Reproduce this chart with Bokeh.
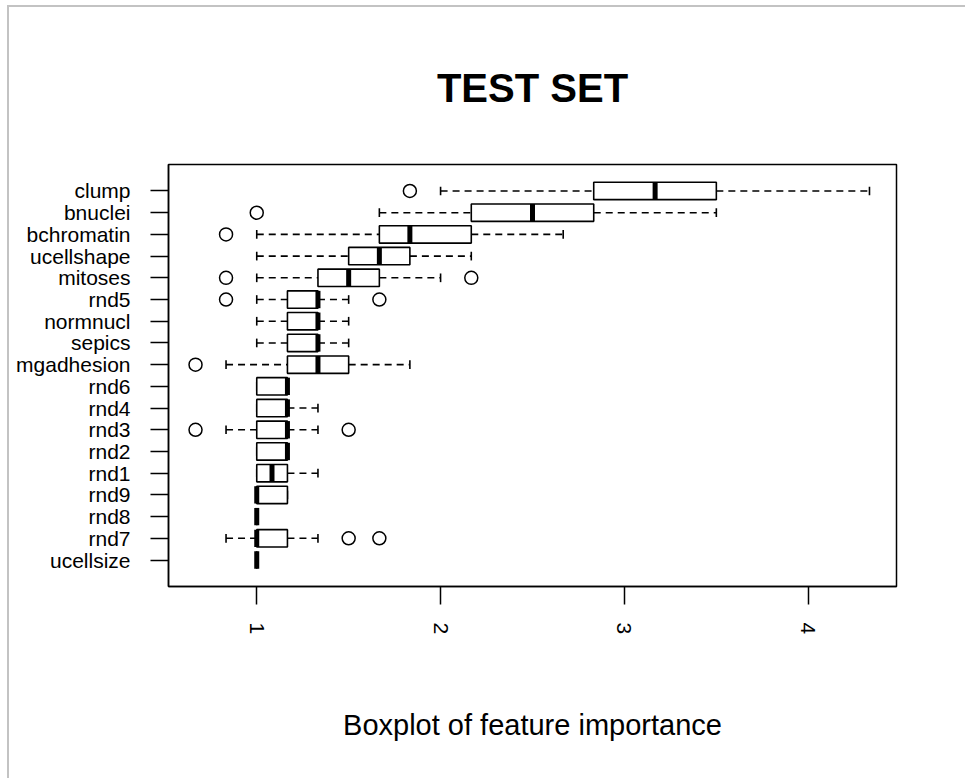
from bokeh.plotting import figure
from bokeh.models import Range1d, FixedTicker, ColumnDataSource, Title
from bokeh.embed import file_html
from bokeh.resources import INLINE

# ---- data (top row first) ----
features = ["clump", "bnuclei", "bchromatin", "ucellshape", "mitoses", "rnd5",
            "normnucl", "sepics", "mgadhesion", "rnd6", "rnd4", "rnd3", "rnd2",
            "rnd1", "rnd9", "rnd8", "rnd7", "ucellsize"]
lower_whisker = [2.0, 1.667, 1.0, 1.0, 1.0, 1.0, 1.0, 1.0, 0.833, 1.0, 1.0, 0.833,
                 1.0, 1.0, 1.0, 1.0, 0.833, 1.0]
q1 = [2.833, 2.167, 1.667, 1.5, 1.333, 1.167, 1.167, 1.167, 1.167, 1.0, 1.0, 1.0,
      1.0, 1.0, 1.0, 1.0, 1.0, 1.0]
median = [3.167, 2.5, 1.833, 1.667, 1.5, 1.333, 1.333, 1.333, 1.333, 1.167, 1.167,
          1.167, 1.167, 1.083, 1.0, 1.0, 1.0, 1.0]
q3 = [3.5, 2.833, 2.167, 1.833, 1.667, 1.333, 1.333, 1.333, 1.5, 1.167, 1.167, 1.167,
      1.167, 1.167, 1.167, 1.0, 1.167, 1.0]
upper_whisker = [4.333, 3.5, 2.667, 2.167, 2.0, 1.5, 1.5, 1.5, 1.833, 1.167, 1.333,
                 1.333, 1.167, 1.333, 1.167, 1.0, 1.333, 1.0]
outlier_feature = ["clump", "bnuclei", "bchromatin", "mitoses", "mitoses", "rnd5",
                   "rnd5", "mgadhesion", "rnd3", "rnd3", "rnd7", "rnd7"]
outlier_value = [1.833, 1.0, 0.833, 0.833, 2.167, 0.833, 1.667, 0.667, 0.667, 1.5,
                 1.5, 1.667]
x_ticks = [1, 2, 3, 4]
title_text = "TEST SET"
xlabel_text = "Boxplot of feature importance"

n = len(features)
pos = {f: n - i for i, f in enumerate(features)}
ys = [pos[f] for f in features]
half = 0.4
staple = 0.2

src = ColumnDataSource(dict(
    y=ys, lo=lower_whisker, q1=q1, med=median, q3=q3, hi=upper_whisker,
    ybot=[y - half for y in ys], ytop=[y + half for y in ys],
    sbot=[y - staple for y in ys], stop=[y + staple for y in ys],
))
osrc = ColumnDataSource(dict(x=outlier_value, y=[pos[f] for f in outlier_feature]))

FONT = "Liberation Sans"

p = figure(width=958, height=773, output_backend="svg", toolbar_location=None,
           x_range=Range1d(0.52, 4.48), y_range=Range1d(0.5 - 0.72, n + 0.5 + 0.72),
           min_border_left=159, min_border_right=71, min_border_top=157,
           min_border_bottom=194, margin=(5, 0, 0, 7))
p.styles = {"border-left": "2px solid #c3c3c3", "border-top": "2px solid #c3c3c3"}

p.outline_line_color = "black"
p.outline_line_width = 1.5
p.outline_line_alpha = 1
p.background_fill_color = "white"
p.border_fill_color = "white"
p.xgrid.visible = False
p.ygrid.visible = False

# whiskers (dashed)
p.segment(x0="q3", x1="hi", y0="y", y1="y", source=src, line_color="black",
          line_width=1.6, line_dash="7 5")
p.segment(x0="lo", x1="q1", y0="y", y1="y", source=src, line_color="black",
          line_width=1.6, line_dash="7 5")
# staples
p.segment(x0="hi", x1="hi", y0="sbot", y1="stop", source=src, line_color="black",
          line_width=1.6)
p.segment(x0="lo", x1="lo", y0="sbot", y1="stop", source=src, line_color="black",
          line_width=1.6)
# boxes
p.quad(left="q1", right="q3", bottom="ybot", top="ytop", source=src,
       fill_color="white", line_color="black", line_width=1.6)
# medians
p.segment(x0="med", x1="med", y0="ybot", y1="ytop", source=src, line_color="black",
          line_width=5)
# outliers
p.scatter(x="x", y="y", source=osrc, marker="circle", size=13, fill_color=None,
          line_color="black", line_width=1.5)

# axes
xa = p.xaxis[0]
xa.ticker = FixedTicker(ticks=x_ticks)
xa.minor_tick_line_color = None
xa.major_tick_out = 18
xa.major_tick_in = 0
xa.major_tick_line_width = 1.5
xa.axis_line_width = 1.5
xa.major_label_orientation = "vertical"
xa.major_label_standoff = 18
xa.major_label_text_font = FONT
xa.major_label_text_font_size = "21px"
xa.major_label_text_color = "black"
xa.axis_label = xlabel_text
xa.axis_label_text_font = FONT
xa.axis_label_text_font_size = "29px"
xa.axis_label_text_font_style = "normal"
xa.axis_label_text_color = "black"
xa.axis_label_standoff = 72

ya = p.yaxis[0]
ya.ticker = FixedTicker(ticks=ys)
ya.major_label_overrides = {pos[f]: f for f in features}
ya.minor_tick_line_color = None
ya.major_tick_out = 18
ya.major_tick_in = 0
ya.major_tick_line_width = 1.5
ya.axis_line_width = 1.5
ya.major_label_standoff = 20
ya.major_label_text_font = FONT
ya.major_label_text_font_size = "21px"
ya.major_label_text_color = "black"

t = Title(text=title_text, align="center", text_font=FONT, text_font_size="40px",
          text_font_style="bold", text_color="black", standoff=110)
p.add_layout(t, "above")

open("out.html", "w").write(file_html(p, INLINE))
